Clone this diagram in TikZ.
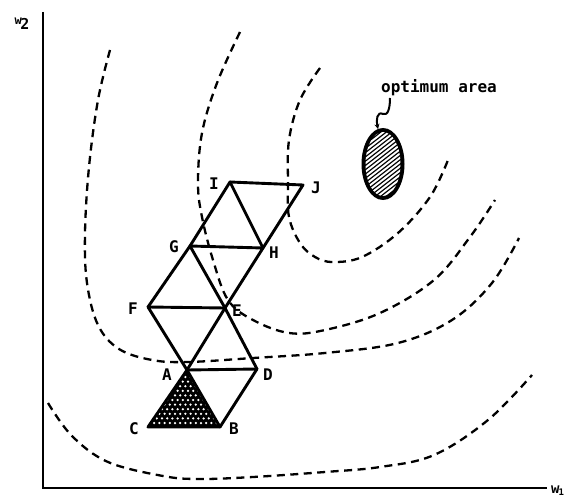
\documentclass[tikz,border=0pt]{standalone}
\usepackage{fontspec}
\newfontfamily\labfont{DejaVu Sans Mono}
\usetikzlibrary{arrows.meta}
\begin{document}
\begin{tikzpicture}[x=1pt,y=-1pt,
  edge/.style={line width=2.9pt, line join=round, line cap=round},
  axisline/.style={line width=2.8pt},
  contour/.style={line width=2.3pt, dash pattern=on 8pt off 5.5pt},
  lbl/.style={font=\labfont\bfseries\fontsize{16}{16}\selectfont, inner sep=0pt},
]
\useasboundingbox (0,0) rectangle (567,497);

% axes
\coordinate (ytop) at (43,12);
\coordinate (orig) at (43,488);
\coordinate (xend) at (547,488);
\draw[axisline] (ytop) -- (orig) -- (xend);
\node[lbl, font=\labfont\bfseries\fontsize{15}{15}\selectfont] (w2) at (22,24) {\raisebox{5pt}{\fontsize{12}{12}\selectfont w}\kern-1.5pt 2};
\node[lbl, anchor=west, font=\labfont\bfseries\fontsize{14}{14}\selectfont] (w1) at (551,491) {w\kern-1pt{\fontsize{9}{9}\selectfont\raisebox{-2pt}{1}}};

% contour lines
\draw[contour] plot[smooth, tension=0.6] coordinates {(110,50) (98,100) (89,167) (85,233) (87,283) (98,325) (119,349) (152,360) (188,362) (253,358) (325,353) (398,343) (452,320) (492,283) (519,238)};
\draw[contour] plot[smooth, tension=0.6] coordinates {(240,32) (217,83) (202,133) (198,183) (202,217) (213,260) (228,300) (253,320) (289,333) (325,330) (380,313) (434,280) (470,237) (495,200)};
\draw[contour] plot[smooth, tension=0.6] coordinates {(320,68) (300,100) (289,140) (288,183) (289,217) (300,243) (315,257) (333,262) (362,257) (398,233) (430,197) (448,160)};
\draw[contour] plot[smooth, tension=0.6] coordinates {(48,403) (72,436) (108,462) (163,476) (199,479) (253,477) (325,472) (380,467) (434,455) (488,420) (532,375)};

% simplex vertices
\coordinate (A) at (187,370);
\coordinate (B) at (220,427);
\coordinate (C) at (148,427);
\coordinate (D) at (257,369);
\coordinate (E) at (225,308);
\coordinate (F) at (148,307);
\coordinate (G) at (190,246);
\coordinate (H) at (263,248);
\coordinate (I) at (230,182);
\coordinate (J) at (303,185);

% shaded starting simplex
\fill (A) -- (B) -- (C) -- cycle;
\begin{scope}
  \clip (A) -- (B) -- (C) -- cycle;
  \foreach \r in {0,...,12} {
    \foreach \c in {0,...,15} {
      \fill[white] ({149+\c*5.2+mod(\r,2)*2.6}, {377+\r*4.6}) circle (1.25);
    }
  }
\end{scope}

% simplex edges
\draw[edge] (C) -- (B) -- (A) -- cycle;
\draw[edge] (A) -- (D) -- (B);
\draw[edge] (A) -- (E) -- (D);
\draw[edge] (A) -- (F) -- (E);
\draw[edge] (F) -- (G) -- (E);
\draw[edge] (G) -- (H) -- (E);
\draw[edge] (G) -- (I) -- (H);
\draw[edge] (I) -- (J) -- (H);

% vertex labels
\node[lbl] (lA) at (167,375) {A};
\node[lbl] (lB) at (234,429) {B};
\node[lbl] (lC) at (134,429) {C};
\node[lbl] (lD) at (268,375) {D};
\node[lbl] (lE) at (237,311) {E};
\node[lbl] (lF) at (133,309) {F};
\node[lbl] (lG) at (174,247) {G};
\node[lbl] (lH) at (274,253) {H};
\node[lbl] (lI) at (214,184) {I};
\node[lbl] (lJ) at (316,188) {J};

% optimum area
\coordinate (opt) at (383,164);
\fill (opt) ellipse (21.5 and 36);
\begin{scope}
  \clip (opt) ellipse (17.5 and 32);
  \foreach \k in {-90,-84.5,...,90} {
    \draw[white, line width=1.9pt] ({383+\k-45},{164+35}) -- ({383+\k+45},{164-35});
  }
\end{scope}
\node[lbl, anchor=west] (optlbl) at (381,88) {optimum area};
\coordinate (sq) at (390,98);
\coordinate (sqend) at (378,129);
\draw[line width=2pt, -{Stealth[length=5pt,width=5pt]}] (sq) .. controls (390,108) and (388,116) .. (383,114) .. controls (377,111) and (376,120) .. (sqend);
\end{tikzpicture}
\end{document}
